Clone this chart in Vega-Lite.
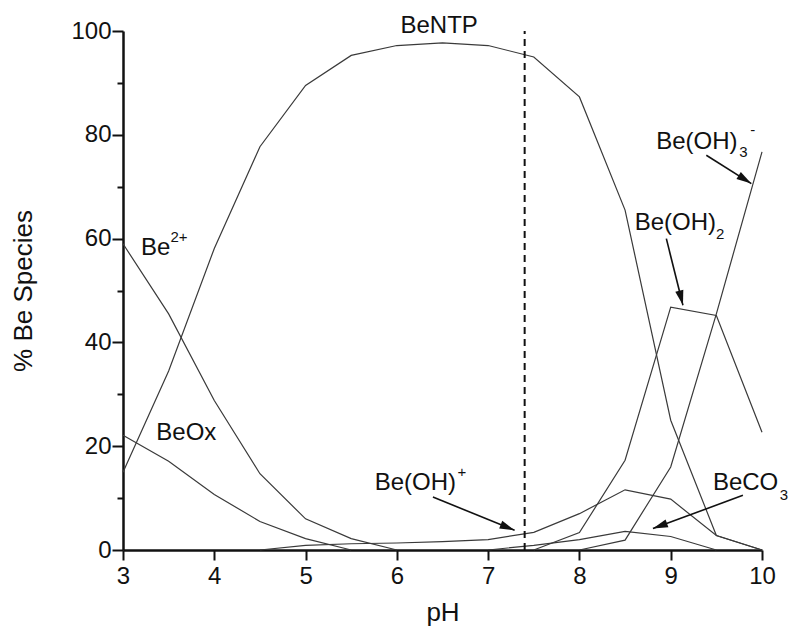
{
  "$schema": "https://vega.github.io/schema/vega-lite/v6.json",
  "autosize": "none",
  "width": 639,
  "height": 519,
  "padding": {"left": 123, "top": 31, "right": 29, "bottom": 82},
  "background": "white",
  "config": {
    "view": {"stroke": null},
    "font": "Liberation Sans",
    "axis": {"grid": false, "domainColor": "#111", "tickColor": "#111", "labelColor": "#111", "titleColor": "#111", "labelFont": "Liberation Sans", "titleFont": "Liberation Sans", "titleFontWeight": "normal"}
  },
  "datasets": {
    "curves": [
      {"pH": 3, "species": "BeNTP", "pct": 15.0},
      {"pH": 3.5, "species": "BeNTP", "pct": 34.5},
      {"pH": 4, "species": "BeNTP", "pct": 58.1},
      {"pH": 4.5, "species": "BeNTP", "pct": 77.7},
      {"pH": 5, "species": "BeNTP", "pct": 89.5},
      {"pH": 5.5, "species": "BeNTP", "pct": 95.3},
      {"pH": 6, "species": "BeNTP", "pct": 97.2},
      {"pH": 6.5, "species": "BeNTP", "pct": 97.7},
      {"pH": 7, "species": "BeNTP", "pct": 97.2},
      {"pH": 7.5, "species": "BeNTP", "pct": 95.0},
      {"pH": 8, "species": "BeNTP", "pct": 87.3},
      {"pH": 8.5, "species": "BeNTP", "pct": 65.5},
      {"pH": 9, "species": "BeNTP", "pct": 25.0},
      {"pH": 9.5, "species": "BeNTP", "pct": 2.8},
      {"pH": 10, "species": "BeNTP", "pct": 0},
      {"pH": 3, "species": "Be2+", "pct": 59.0},
      {"pH": 3.5, "species": "Be2+", "pct": 45.5},
      {"pH": 4, "species": "Be2+", "pct": 28.8},
      {"pH": 4.5, "species": "Be2+", "pct": 14.7},
      {"pH": 5, "species": "Be2+", "pct": 6.0},
      {"pH": 5.5, "species": "Be2+", "pct": 2.2},
      {"pH": 6, "species": "Be2+", "pct": 0},
      {"pH": 3, "species": "BeOx", "pct": 22.1},
      {"pH": 3.5, "species": "BeOx", "pct": 17.1},
      {"pH": 4, "species": "BeOx", "pct": 10.7},
      {"pH": 4.5, "species": "BeOx", "pct": 5.5},
      {"pH": 5, "species": "BeOx", "pct": 2.2},
      {"pH": 5.5, "species": "BeOx", "pct": 0},
      {"pH": 4.5, "species": "Be(OH)+", "pct": 0},
      {"pH": 5, "species": "Be(OH)+", "pct": 0.9},
      {"pH": 5.5, "species": "Be(OH)+", "pct": 1.2},
      {"pH": 6, "species": "Be(OH)+", "pct": 1.35},
      {"pH": 6.5, "species": "Be(OH)+", "pct": 1.6},
      {"pH": 7, "species": "Be(OH)+", "pct": 2.0},
      {"pH": 7.5, "species": "Be(OH)+", "pct": 3.4},
      {"pH": 8, "species": "Be(OH)+", "pct": 7.0},
      {"pH": 8.5, "species": "Be(OH)+", "pct": 11.6},
      {"pH": 9, "species": "Be(OH)+", "pct": 9.8},
      {"pH": 9.5, "species": "Be(OH)+", "pct": 2.8},
      {"pH": 10, "species": "Be(OH)+", "pct": 0},
      {"pH": 7, "species": "BeCO3", "pct": 0},
      {"pH": 7.5, "species": "BeCO3", "pct": 0.9},
      {"pH": 8, "species": "BeCO3", "pct": 2.0},
      {"pH": 8.5, "species": "BeCO3", "pct": 3.6},
      {"pH": 9, "species": "BeCO3", "pct": 2.6},
      {"pH": 9.5, "species": "BeCO3", "pct": 0},
      {"pH": 7.5, "species": "Be(OH)2", "pct": 0},
      {"pH": 8, "species": "Be(OH)2", "pct": 3.35},
      {"pH": 8.5, "species": "Be(OH)2", "pct": 17.3},
      {"pH": 9, "species": "Be(OH)2", "pct": 46.8},
      {"pH": 9.5, "species": "Be(OH)2", "pct": 45.2},
      {"pH": 10, "species": "Be(OH)2", "pct": 22.7},
      {"pH": 8, "species": "Be(OH)3-", "pct": 0},
      {"pH": 8.5, "species": "Be(OH)3-", "pct": 1.9},
      {"pH": 9, "species": "Be(OH)3-", "pct": 16.0},
      {"pH": 9.5, "species": "Be(OH)3-", "pct": 45.5},
      {"pH": 10, "species": "Be(OH)3-", "pct": 76.7}
    ],
    "arrows": [
      {"label": "Be(OH)+", "x1": 6.395, "y1": 10.21, "x2": 7.29, "y2": 3.8},
      {"label": "Be(OH)3-", "x1": 9.39, "y1": 76.05, "x2": 9.883, "y2": 70.6},
      {"label": "Be(OH)2", "x1": 8.952, "y1": 60.0, "x2": 9.134, "y2": 47.15},
      {"label": "BeCO3", "x1": 9.791, "y1": 10.54, "x2": 8.805, "y2": 4.12}
    ],
    "labels": [
      {"x": 6.04, "y": 99.55, "text": "BeNTP"},
      {"x": 3.197, "y": 56.8, "text": "Be"},
      {"x": 3.365, "y": 21.1, "text": "BeOx"},
      {"x": 5.757, "y": 11.5, "text": "Be(OH)"},
      {"x": 8.841, "y": 77.3, "text": "Be(OH)"},
      {"x": 8.605, "y": 61.6, "text": "Be(OH)"},
      {"x": 9.462, "y": 11.5, "text": "BeCO"}
    ],
    "scripts": [
      {"x": 3.52, "y": 59.3, "text": "2+"},
      {"x": 6.665, "y": 14.1, "text": "+"},
      {"x": 9.752, "y": 75.7, "text": "3"},
      {"x": 9.87, "y": 80.0, "text": "-"},
      {"x": 9.495, "y": 60.0, "text": "2"},
      {"x": 10.195, "y": 9.58, "text": "3"}
    ],
    "marker": [{"pH": 7.4, "lo": 0, "hi": 100}]
  },
  "layer": [
    {
      "data": {"name": "curves"},
      "mark": {"type": "line", "color": "#3a3a3a", "strokeWidth": 1.2},
      "encoding": {
        "x": {
          "field": "pH", "type": "quantitative",
          "scale": {"domain": [3, 10], "nice": false, "zero": false},
          "axis": {
            "title": "pH", "titleFontSize": 26, "titlePadding": 11,
            "values": [3, 3.5, 4, 4.5, 5, 5.5, 6, 6.5, 7, 7.5, 8, 8.5, 9, 9.5, 10],
            "format": "d",
            "labelExpr": "datum.value % 1 == 0 ? datum.label : ''",
            "labelFontSize": 24, "labelPadding": 4, "labelFlush": false,
            "domainWidth": 2.5, "tickWidth": 2,
            "tickSize": {"condition": {"test": "datum.value % 1 == 0", "value": 10}, "value": 5}
          }
        },
        "y": {
          "field": "pct", "type": "quantitative",
          "scale": {"domain": [0, 100], "nice": false},
          "axis": {
            "title": "% Be Species", "titleFontSize": 26, "titlePadding": 34,
            "values": [0, 10, 20, 30, 40, 50, 60, 70, 80, 90, 100],
            "format": "d",
            "labelExpr": "datum.value % 20 == 0 ? datum.label : ''",
            "labelFontSize": 24, "labelPadding": 1, "labelFlush": false,
            "domainWidth": 2.5, "tickWidth": 2,
            "tickSize": {"condition": {"test": "datum.value % 20 == 0", "value": 11}, "value": 6}
          }
        },
        "detail": {"field": "species"}
      }
    },
    {
      "data": {"name": "marker"},
      "mark": {"type": "rule", "color": "#111", "strokeWidth": 2, "strokeDash": [7, 5]},
      "encoding": {
        "x": {"field": "pH", "type": "quantitative"},
        "y": {"field": "lo", "type": "quantitative"},
        "y2": {"field": "hi"}
      }
    },
    {
      "data": {"name": "arrows"},
      "mark": {"type": "rule", "color": "#111", "strokeWidth": 1.6},
      "encoding": {
        "x": {"field": "x1", "type": "quantitative"},
        "y": {"field": "y1", "type": "quantitative"},
        "x2": {"field": "x2"},
        "y2": {"field": "y2"}
      }
    },
    {
      "data": {"name": "arrows"},
      "mark": {
        "type": "point", "filled": true, "color": "#111", "opacity": 1, "size": 225,
        "shape": "M0,0L-0.55,2L0.55,2Z",
        "angle": {"expr": "atan2(scale('x', datum.x2) - scale('x', datum.x1), -(scale('y', datum.y2) - scale('y', datum.y1))) * 180 / PI"}
      },
      "encoding": {
        "x": {"field": "x2", "type": "quantitative"},
        "y": {"field": "y2", "type": "quantitative"}
      }
    },
    {
      "data": {"name": "labels"},
      "mark": {"type": "text", "align": "left", "baseline": "alphabetic", "fontSize": 24, "color": "#111", "font": "Liberation Sans"},
      "encoding": {
        "x": {"field": "x", "type": "quantitative"},
        "y": {"field": "y", "type": "quantitative"},
        "text": {"field": "text"}
      }
    },
    {
      "data": {"name": "scripts"},
      "mark": {"type": "text", "align": "left", "baseline": "alphabetic", "fontSize": 15, "color": "#111", "font": "Liberation Sans"},
      "encoding": {
        "x": {"field": "x", "type": "quantitative"},
        "y": {"field": "y", "type": "quantitative"},
        "text": {"field": "text"}
      }
    }
  ]
}
